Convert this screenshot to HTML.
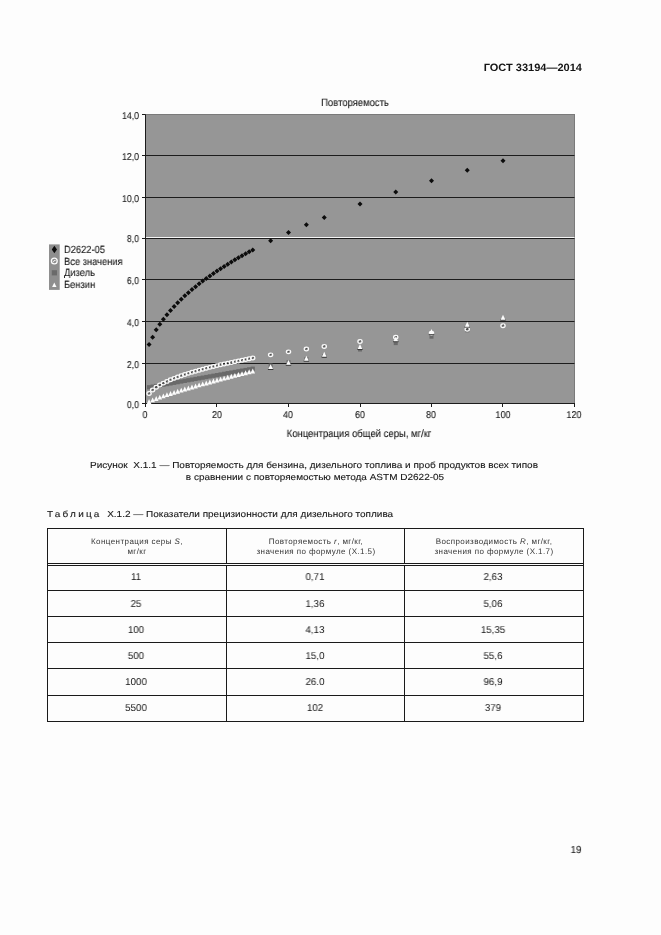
<!DOCTYPE html>
<html><head><meta charset="utf-8"><title>ГОСТ 33194—2014</title>
<style>
html,body{margin:0;padding:0;}
body{width:661px;height:935px;background:#fdfdfd;position:relative;overflow:hidden;font-family:"Liberation Sans",sans-serif;color:#141414;}
.t{position:absolute;white-space:pre;line-height:1;will-change:transform;text-rendering:geometricPrecision;}
.b{-webkit-text-stroke:0.2px #141414;}
.h{color:#343434;letter-spacing:0.42px;}
.p{color:#161616;-webkit-text-stroke:0.1px #161616;}
</style></head>
<body>
<svg width="661" height="935" viewBox="0 0 661 935" style="position:absolute;left:0;top:0"><rect x="145.5" y="114.5" width="429.0" height="289.0" fill="#969696"/><rect x="145.5" y="114.5" width="429.0" height="289.0" fill="none" stroke="#7a7a7a" stroke-width="1"/><line x1="145.5" x2="574.5" y1="363.5" y2="363.5" stroke="#1c1c1c" stroke-width="1"/><line x1="145.5" x2="574.5" y1="321.5" y2="321.5" stroke="#1c1c1c" stroke-width="1"/><line x1="145.5" x2="574.5" y1="279.5" y2="279.5" stroke="#1c1c1c" stroke-width="1"/><line x1="145.5" x2="574.5" y1="197.5" y2="197.5" stroke="#1c1c1c" stroke-width="1"/><line x1="145.5" x2="574.5" y1="155.5" y2="155.5" stroke="#1c1c1c" stroke-width="1"/><line x1="145.5" x2="574.5" y1="238.5" y2="238.5" stroke="#1c1c1c" stroke-width="1"/><line x1="145.5" x2="574.5" y1="237.5" y2="237.5" stroke="#f6f6f6" stroke-width="1"/><line x1="145.5" x2="145.5" y1="114.5" y2="404.0" stroke="#1c1c1c" stroke-width="1"/><line x1="142.0" x2="575.0" y1="403.5" y2="403.5" stroke="#1c1c1c" stroke-width="1"/><line x1="142.0" x2="145.5" y1="403.5" y2="403.5" stroke="#1c1c1c" stroke-width="1"/><line x1="142.0" x2="145.5" y1="363.5" y2="363.5" stroke="#1c1c1c" stroke-width="1"/><line x1="142.0" x2="145.5" y1="321.5" y2="321.5" stroke="#1c1c1c" stroke-width="1"/><line x1="142.0" x2="145.5" y1="279.5" y2="279.5" stroke="#1c1c1c" stroke-width="1"/><line x1="142.0" x2="145.5" y1="238.5" y2="238.5" stroke="#1c1c1c" stroke-width="1"/><line x1="142.0" x2="145.5" y1="197.5" y2="197.5" stroke="#1c1c1c" stroke-width="1"/><line x1="142.0" x2="145.5" y1="155.5" y2="155.5" stroke="#1c1c1c" stroke-width="1"/><line x1="142.0" x2="145.5" y1="114.5" y2="114.5" stroke="#1c1c1c" stroke-width="1"/><line x1="145.5" x2="145.5" y1="403.5" y2="407.0" stroke="#1c1c1c" stroke-width="1"/><line x1="216.5" x2="216.5" y1="403.5" y2="407.0" stroke="#1c1c1c" stroke-width="1"/><line x1="288.5" x2="288.5" y1="403.5" y2="407.0" stroke="#1c1c1c" stroke-width="1"/><line x1="360.5" x2="360.5" y1="403.5" y2="407.0" stroke="#1c1c1c" stroke-width="1"/><line x1="431.5" x2="431.5" y1="403.5" y2="407.0" stroke="#1c1c1c" stroke-width="1"/><line x1="502.5" x2="502.5" y1="403.5" y2="407.0" stroke="#1c1c1c" stroke-width="1"/><line x1="574.5" x2="574.5" y1="403.5" y2="407.0" stroke="#1c1c1c" stroke-width="1"/><path d="M149.07 341.93L151.57 344.43L149.07 346.93L146.57 344.43Z" fill="#0c0c0c"/><path d="M152.65 334.67L155.15 337.17L152.65 339.67L150.15 337.17Z" fill="#0c0c0c"/><path d="M156.22 327.21L158.72 329.71L156.22 332.21L153.72 329.71Z" fill="#0c0c0c"/><path d="M159.80 321.70L162.30 324.20L159.80 326.70L157.30 324.20Z" fill="#0c0c0c"/><path d="M163.38 316.72L165.88 319.22L163.38 321.72L160.88 319.22Z" fill="#0c0c0c"/><path d="M166.95 312.15L169.45 314.65L166.95 317.15L164.45 314.65Z" fill="#0c0c0c"/><path d="M170.53 307.92L173.03 310.42L170.53 312.92L168.03 310.42Z" fill="#0c0c0c"/><path d="M174.10 303.97L176.60 306.47L174.10 308.97L171.60 306.47Z" fill="#0c0c0c"/><path d="M177.68 300.24L180.18 302.74L177.68 305.24L175.18 302.74Z" fill="#0c0c0c"/><path d="M181.25 296.72L183.75 299.22L181.25 301.72L178.75 299.22Z" fill="#0c0c0c"/><path d="M184.82 293.37L187.32 295.87L184.82 298.37L182.32 295.87Z" fill="#0c0c0c"/><path d="M188.40 290.17L190.90 292.67L188.40 295.17L185.90 292.67Z" fill="#0c0c0c"/><path d="M191.97 287.11L194.47 289.61L191.97 292.11L189.47 289.61Z" fill="#0c0c0c"/><path d="M195.55 284.17L198.05 286.67L195.55 289.17L193.05 286.67Z" fill="#0c0c0c"/><path d="M199.12 281.34L201.62 283.84L199.12 286.34L196.62 283.84Z" fill="#0c0c0c"/><path d="M202.70 278.61L205.20 281.11L202.70 283.61L200.20 281.11Z" fill="#0c0c0c"/><path d="M206.28 275.97L208.78 278.47L206.28 280.97L203.78 278.47Z" fill="#0c0c0c"/><path d="M209.85 273.41L212.35 275.91L209.85 278.41L207.35 275.91Z" fill="#0c0c0c"/><path d="M213.43 270.92L215.93 273.42L213.43 275.92L210.93 273.42Z" fill="#0c0c0c"/><path d="M217.00 268.51L219.50 271.01L217.00 273.51L214.50 271.01Z" fill="#0c0c0c"/><path d="M220.57 266.16L223.07 268.66L220.57 271.16L218.07 268.66Z" fill="#0c0c0c"/><path d="M224.15 263.88L226.65 266.38L224.15 268.88L221.65 266.38Z" fill="#0c0c0c"/><path d="M227.72 261.65L230.22 264.15L227.72 266.65L225.22 264.15Z" fill="#0c0c0c"/><path d="M231.30 259.47L233.80 261.97L231.30 264.47L228.80 261.97Z" fill="#0c0c0c"/><path d="M234.88 257.35L237.38 259.85L234.88 262.35L232.38 259.85Z" fill="#0c0c0c"/><path d="M238.45 255.27L240.95 257.77L238.45 260.27L235.95 257.77Z" fill="#0c0c0c"/><path d="M242.03 253.24L244.53 255.74L242.03 258.24L239.53 255.74Z" fill="#0c0c0c"/><path d="M245.60 251.24L248.10 253.74L245.60 256.24L243.10 253.74Z" fill="#0c0c0c"/><path d="M249.18 249.29L251.68 251.79L249.18 254.29L246.68 251.79Z" fill="#0c0c0c"/><path d="M252.75 247.38L255.25 249.88L252.75 252.38L250.25 249.88Z" fill="#0c0c0c"/><path d="M270.62 238.31L273.12 240.81L270.62 243.31L268.12 240.81Z" fill="#0c0c0c"/><path d="M288.50 229.96L291.00 232.46L288.50 234.96L286.00 232.46Z" fill="#0c0c0c"/><path d="M306.38 222.19L308.88 224.69L306.38 227.19L303.88 224.69Z" fill="#0c0c0c"/><path d="M324.25 214.90L326.75 217.40L324.25 219.90L321.75 217.40Z" fill="#0c0c0c"/><path d="M360.00 201.51L362.50 204.01L360.00 206.51L357.50 204.01Z" fill="#0c0c0c"/><path d="M395.75 189.38L398.25 191.88L395.75 194.38L393.25 191.88Z" fill="#0c0c0c"/><path d="M431.50 178.22L434.00 180.72L431.50 183.22L429.00 180.72Z" fill="#0c0c0c"/><path d="M467.25 167.86L469.75 170.36L467.25 172.86L464.75 170.36Z" fill="#0c0c0c"/><path d="M503.00 158.16L505.50 160.66L503.00 163.16L500.50 160.66Z" fill="#0c0c0c"/><rect x="146.97" y="385.17" width="4.2" height="4.2" fill="#6a6a6a"/><rect x="150.55" y="384.53" width="4.2" height="4.2" fill="#6a6a6a"/><rect x="154.12" y="383.89" width="4.2" height="4.2" fill="#6a6a6a"/><rect x="157.70" y="383.25" width="4.2" height="4.2" fill="#6a6a6a"/><rect x="161.28" y="382.61" width="4.2" height="4.2" fill="#6a6a6a"/><rect x="164.85" y="381.97" width="4.2" height="4.2" fill="#6a6a6a"/><rect x="168.43" y="381.33" width="4.2" height="4.2" fill="#6a6a6a"/><rect x="172.00" y="380.69" width="4.2" height="4.2" fill="#6a6a6a"/><rect x="175.58" y="380.05" width="4.2" height="4.2" fill="#6a6a6a"/><rect x="179.15" y="379.41" width="4.2" height="4.2" fill="#6a6a6a"/><rect x="182.72" y="378.77" width="4.2" height="4.2" fill="#6a6a6a"/><rect x="186.30" y="378.13" width="4.2" height="4.2" fill="#6a6a6a"/><rect x="189.88" y="377.49" width="4.2" height="4.2" fill="#6a6a6a"/><rect x="193.45" y="376.85" width="4.2" height="4.2" fill="#6a6a6a"/><rect x="197.03" y="376.21" width="4.2" height="4.2" fill="#6a6a6a"/><rect x="200.60" y="375.57" width="4.2" height="4.2" fill="#6a6a6a"/><rect x="204.18" y="374.93" width="4.2" height="4.2" fill="#6a6a6a"/><rect x="207.75" y="374.29" width="4.2" height="4.2" fill="#6a6a6a"/><rect x="211.33" y="373.65" width="4.2" height="4.2" fill="#6a6a6a"/><rect x="214.90" y="373.01" width="4.2" height="4.2" fill="#6a6a6a"/><rect x="218.47" y="372.37" width="4.2" height="4.2" fill="#6a6a6a"/><rect x="222.05" y="371.73" width="4.2" height="4.2" fill="#6a6a6a"/><rect x="225.62" y="371.09" width="4.2" height="4.2" fill="#6a6a6a"/><rect x="229.20" y="370.45" width="4.2" height="4.2" fill="#6a6a6a"/><rect x="232.78" y="369.81" width="4.2" height="4.2" fill="#6a6a6a"/><rect x="236.35" y="369.17" width="4.2" height="4.2" fill="#6a6a6a"/><rect x="239.93" y="368.53" width="4.2" height="4.2" fill="#6a6a6a"/><rect x="243.50" y="367.89" width="4.2" height="4.2" fill="#6a6a6a"/><rect x="247.08" y="367.25" width="4.2" height="4.2" fill="#6a6a6a"/><rect x="250.65" y="366.61" width="4.2" height="4.2" fill="#6a6a6a"/><rect x="268.62" y="363.51" width="4.0" height="4.0" fill="#6a6a6a"/><rect x="286.50" y="360.31" width="4.0" height="4.0" fill="#6a6a6a"/><rect x="304.38" y="357.11" width="4.0" height="4.0" fill="#6a6a6a"/><rect x="322.25" y="353.91" width="4.0" height="4.0" fill="#6a6a6a"/><rect x="358.00" y="347.51" width="4.0" height="4.0" fill="#6a6a6a"/><rect x="393.75" y="341.11" width="4.0" height="4.0" fill="#6a6a6a"/><rect x="429.50" y="334.71" width="4.0" height="4.0" fill="#6a6a6a"/><rect x="465.25" y="328.31" width="4.0" height="4.0" fill="#6a6a6a"/><ellipse cx="149.07" cy="393.57" rx="2.15" ry="1.8499999999999999" fill="none" stroke="#fbfbfb" stroke-width="1.25"/><path d="M148.52 394.27Q148.67 392.77 149.97 392.82" fill="none" stroke="#2a2a2a" stroke-width="0.75"/><ellipse cx="152.65" cy="389.96" rx="2.15" ry="1.8499999999999999" fill="none" stroke="#fbfbfb" stroke-width="1.25"/><path d="M152.10 390.66Q152.25 389.16 153.55 389.21" fill="none" stroke="#2a2a2a" stroke-width="0.75"/><ellipse cx="156.22" cy="387.27" rx="2.15" ry="1.8499999999999999" fill="none" stroke="#fbfbfb" stroke-width="1.25"/><path d="M155.67 387.97Q155.82 386.47 157.12 386.52" fill="none" stroke="#2a2a2a" stroke-width="0.75"/><ellipse cx="159.80" cy="385.05" rx="2.15" ry="1.8499999999999999" fill="none" stroke="#fbfbfb" stroke-width="1.25"/><path d="M159.25 385.75Q159.40 384.25 160.70 384.30" fill="none" stroke="#2a2a2a" stroke-width="0.75"/><ellipse cx="163.38" cy="383.11" rx="2.15" ry="1.8499999999999999" fill="none" stroke="#fbfbfb" stroke-width="1.25"/><path d="M162.82 383.81Q162.97 382.31 164.28 382.36" fill="none" stroke="#2a2a2a" stroke-width="0.75"/><ellipse cx="166.95" cy="381.38" rx="2.15" ry="1.8499999999999999" fill="none" stroke="#fbfbfb" stroke-width="1.25"/><path d="M166.40 382.08Q166.55 380.58 167.85 380.63" fill="none" stroke="#2a2a2a" stroke-width="0.75"/><ellipse cx="170.53" cy="379.80" rx="2.15" ry="1.8499999999999999" fill="none" stroke="#fbfbfb" stroke-width="1.25"/><path d="M169.97 380.50Q170.12 379.00 171.43 379.05" fill="none" stroke="#2a2a2a" stroke-width="0.75"/><ellipse cx="174.10" cy="378.35" rx="2.15" ry="1.8499999999999999" fill="none" stroke="#fbfbfb" stroke-width="1.25"/><path d="M173.55 379.05Q173.70 377.55 175.00 377.60" fill="none" stroke="#2a2a2a" stroke-width="0.75"/><ellipse cx="177.68" cy="376.99" rx="2.15" ry="1.8499999999999999" fill="none" stroke="#fbfbfb" stroke-width="1.25"/><path d="M177.12 377.69Q177.28 376.19 178.58 376.24" fill="none" stroke="#2a2a2a" stroke-width="0.75"/><ellipse cx="181.25" cy="375.71" rx="2.15" ry="1.8499999999999999" fill="none" stroke="#fbfbfb" stroke-width="1.25"/><path d="M180.70 376.41Q180.85 374.91 182.15 374.96" fill="none" stroke="#2a2a2a" stroke-width="0.75"/><ellipse cx="184.82" cy="374.50" rx="2.15" ry="1.8499999999999999" fill="none" stroke="#fbfbfb" stroke-width="1.25"/><path d="M184.27 375.20Q184.42 373.70 185.72 373.75" fill="none" stroke="#2a2a2a" stroke-width="0.75"/><ellipse cx="188.40" cy="373.35" rx="2.15" ry="1.8499999999999999" fill="none" stroke="#fbfbfb" stroke-width="1.25"/><path d="M187.85 374.05Q188.00 372.55 189.30 372.60" fill="none" stroke="#2a2a2a" stroke-width="0.75"/><ellipse cx="191.97" cy="372.25" rx="2.15" ry="1.8499999999999999" fill="none" stroke="#fbfbfb" stroke-width="1.25"/><path d="M191.42 372.95Q191.57 371.45 192.88 371.50" fill="none" stroke="#2a2a2a" stroke-width="0.75"/><ellipse cx="195.55" cy="371.20" rx="2.15" ry="1.8499999999999999" fill="none" stroke="#fbfbfb" stroke-width="1.25"/><path d="M195.00 371.90Q195.15 370.40 196.45 370.45" fill="none" stroke="#2a2a2a" stroke-width="0.75"/><ellipse cx="199.12" cy="370.19" rx="2.15" ry="1.8499999999999999" fill="none" stroke="#fbfbfb" stroke-width="1.25"/><path d="M198.57 370.89Q198.72 369.39 200.03 369.44" fill="none" stroke="#2a2a2a" stroke-width="0.75"/><ellipse cx="202.70" cy="369.21" rx="2.15" ry="1.8499999999999999" fill="none" stroke="#fbfbfb" stroke-width="1.25"/><path d="M202.15 369.91Q202.30 368.41 203.60 368.46" fill="none" stroke="#2a2a2a" stroke-width="0.75"/><ellipse cx="206.28" cy="368.27" rx="2.15" ry="1.8499999999999999" fill="none" stroke="#fbfbfb" stroke-width="1.25"/><path d="M205.72 368.97Q205.88 367.47 207.18 367.52" fill="none" stroke="#2a2a2a" stroke-width="0.75"/><ellipse cx="209.85" cy="367.36" rx="2.15" ry="1.8499999999999999" fill="none" stroke="#fbfbfb" stroke-width="1.25"/><path d="M209.30 368.06Q209.45 366.56 210.75 366.61" fill="none" stroke="#2a2a2a" stroke-width="0.75"/><ellipse cx="213.43" cy="366.47" rx="2.15" ry="1.8499999999999999" fill="none" stroke="#fbfbfb" stroke-width="1.25"/><path d="M212.88 367.17Q213.03 365.67 214.33 365.72" fill="none" stroke="#2a2a2a" stroke-width="0.75"/><ellipse cx="217.00" cy="365.61" rx="2.15" ry="1.8499999999999999" fill="none" stroke="#fbfbfb" stroke-width="1.25"/><path d="M216.45 366.31Q216.60 364.81 217.90 364.86" fill="none" stroke="#2a2a2a" stroke-width="0.75"/><ellipse cx="220.57" cy="364.78" rx="2.15" ry="1.8499999999999999" fill="none" stroke="#fbfbfb" stroke-width="1.25"/><path d="M220.02 365.48Q220.17 363.98 221.47 364.03" fill="none" stroke="#2a2a2a" stroke-width="0.75"/><ellipse cx="224.15" cy="363.97" rx="2.15" ry="1.8499999999999999" fill="none" stroke="#fbfbfb" stroke-width="1.25"/><path d="M223.60 364.67Q223.75 363.17 225.05 363.22" fill="none" stroke="#2a2a2a" stroke-width="0.75"/><ellipse cx="227.72" cy="363.17" rx="2.15" ry="1.8499999999999999" fill="none" stroke="#fbfbfb" stroke-width="1.25"/><path d="M227.17 363.87Q227.32 362.37 228.62 362.42" fill="none" stroke="#2a2a2a" stroke-width="0.75"/><ellipse cx="231.30" cy="362.40" rx="2.15" ry="1.8499999999999999" fill="none" stroke="#fbfbfb" stroke-width="1.25"/><path d="M230.75 363.10Q230.90 361.60 232.20 361.65" fill="none" stroke="#2a2a2a" stroke-width="0.75"/><ellipse cx="234.88" cy="361.64" rx="2.15" ry="1.8499999999999999" fill="none" stroke="#fbfbfb" stroke-width="1.25"/><path d="M234.32 362.34Q234.47 360.84 235.78 360.89" fill="none" stroke="#2a2a2a" stroke-width="0.75"/><ellipse cx="238.45" cy="360.90" rx="2.15" ry="1.8499999999999999" fill="none" stroke="#fbfbfb" stroke-width="1.25"/><path d="M237.90 361.60Q238.05 360.10 239.35 360.15" fill="none" stroke="#2a2a2a" stroke-width="0.75"/><ellipse cx="242.03" cy="360.18" rx="2.15" ry="1.8499999999999999" fill="none" stroke="#fbfbfb" stroke-width="1.25"/><path d="M241.47 360.88Q241.62 359.38 242.93 359.43" fill="none" stroke="#2a2a2a" stroke-width="0.75"/><ellipse cx="245.60" cy="359.47" rx="2.15" ry="1.8499999999999999" fill="none" stroke="#fbfbfb" stroke-width="1.25"/><path d="M245.05 360.17Q245.20 358.67 246.50 358.72" fill="none" stroke="#2a2a2a" stroke-width="0.75"/><ellipse cx="249.18" cy="358.77" rx="2.15" ry="1.8499999999999999" fill="none" stroke="#fbfbfb" stroke-width="1.25"/><path d="M248.62 359.47Q248.78 357.97 250.08 358.02" fill="none" stroke="#2a2a2a" stroke-width="0.75"/><ellipse cx="252.75" cy="358.09" rx="2.15" ry="1.8499999999999999" fill="none" stroke="#fbfbfb" stroke-width="1.25"/><path d="M252.20 358.79Q252.35 357.29 253.65 357.34" fill="none" stroke="#2a2a2a" stroke-width="0.75"/><ellipse cx="270.62" cy="354.85" rx="2.15" ry="1.8499999999999999" fill="none" stroke="#fbfbfb" stroke-width="1.25"/><path d="M270.07 355.55Q270.23 354.05 271.52 354.10" fill="none" stroke="#2a2a2a" stroke-width="0.75"/><ellipse cx="288.50" cy="351.85" rx="2.15" ry="1.8499999999999999" fill="none" stroke="#fbfbfb" stroke-width="1.25"/><path d="M287.95 352.55Q288.10 351.05 289.40 351.10" fill="none" stroke="#2a2a2a" stroke-width="0.75"/><ellipse cx="306.38" cy="349.06" rx="2.15" ry="1.8499999999999999" fill="none" stroke="#fbfbfb" stroke-width="1.25"/><path d="M305.82 349.76Q305.98 348.26 307.27 348.31" fill="none" stroke="#2a2a2a" stroke-width="0.75"/><ellipse cx="324.25" cy="346.44" rx="2.15" ry="1.8499999999999999" fill="none" stroke="#fbfbfb" stroke-width="1.25"/><path d="M323.70 347.14Q323.85 345.64 325.15 345.69" fill="none" stroke="#2a2a2a" stroke-width="0.75"/><ellipse cx="360.00" cy="341.59" rx="2.15" ry="1.8499999999999999" fill="none" stroke="#fbfbfb" stroke-width="1.25"/><path d="M359.45 342.29Q359.60 340.79 360.90 340.84" fill="none" stroke="#2a2a2a" stroke-width="0.75"/><ellipse cx="395.75" cy="337.18" rx="2.15" ry="1.8499999999999999" fill="none" stroke="#fbfbfb" stroke-width="1.25"/><path d="M395.20 337.88Q395.35 336.38 396.65 336.43" fill="none" stroke="#2a2a2a" stroke-width="0.75"/><ellipse cx="431.50" cy="333.10" rx="2.15" ry="1.8499999999999999" fill="none" stroke="#fbfbfb" stroke-width="1.25"/><path d="M430.95 333.80Q431.10 332.30 432.40 332.35" fill="none" stroke="#2a2a2a" stroke-width="0.75"/><ellipse cx="467.25" cy="329.29" rx="2.15" ry="1.8499999999999999" fill="none" stroke="#fbfbfb" stroke-width="1.25"/><path d="M466.70 329.99Q466.85 328.49 468.15 328.54" fill="none" stroke="#2a2a2a" stroke-width="0.75"/><ellipse cx="503.00" cy="325.71" rx="2.15" ry="1.8499999999999999" fill="none" stroke="#fbfbfb" stroke-width="1.25"/><path d="M502.45 326.41Q502.60 324.91 503.90 324.96" fill="none" stroke="#2a2a2a" stroke-width="0.75"/><path d="M149.07 399.01L151.38 403.91L146.77 403.91Z" fill="#fcfcfc"/><path d="M152.65 397.44L154.95 402.34L150.35 402.34Z" fill="#fcfcfc"/><path d="M156.22 396.02L158.53 400.92L153.92 400.92Z" fill="#fcfcfc"/><path d="M159.80 394.70L162.10 399.60L157.50 399.60Z" fill="#fcfcfc"/><path d="M163.38 393.43L165.68 398.33L161.07 398.33Z" fill="#fcfcfc"/><path d="M166.95 392.21L169.25 397.11L164.65 397.11Z" fill="#fcfcfc"/><path d="M170.53 391.04L172.83 395.94L168.22 395.94Z" fill="#fcfcfc"/><path d="M174.10 389.89L176.40 394.79L171.80 394.79Z" fill="#fcfcfc"/><path d="M177.68 388.77L179.98 393.67L175.38 393.67Z" fill="#fcfcfc"/><path d="M181.25 387.67L183.55 392.57L178.95 392.57Z" fill="#fcfcfc"/><path d="M184.82 386.60L187.12 391.50L182.52 391.50Z" fill="#fcfcfc"/><path d="M188.40 385.54L190.70 390.44L186.10 390.44Z" fill="#fcfcfc"/><path d="M191.97 384.50L194.28 389.40L189.67 389.40Z" fill="#fcfcfc"/><path d="M195.55 383.48L197.85 388.38L193.25 388.38Z" fill="#fcfcfc"/><path d="M199.12 382.47L201.43 387.37L196.82 387.37Z" fill="#fcfcfc"/><path d="M202.70 381.47L205.00 386.37L200.40 386.37Z" fill="#fcfcfc"/><path d="M206.28 380.49L208.58 385.39L203.97 385.39Z" fill="#fcfcfc"/><path d="M209.85 379.51L212.15 384.41L207.55 384.41Z" fill="#fcfcfc"/><path d="M213.43 378.55L215.73 383.45L211.12 383.45Z" fill="#fcfcfc"/><path d="M217.00 377.59L219.30 382.49L214.70 382.49Z" fill="#fcfcfc"/><path d="M220.57 376.65L222.88 381.55L218.27 381.55Z" fill="#fcfcfc"/><path d="M224.15 375.71L226.45 380.61L221.85 380.61Z" fill="#fcfcfc"/><path d="M227.72 374.78L230.03 379.68L225.42 379.68Z" fill="#fcfcfc"/><path d="M231.30 373.86L233.60 378.76L229.00 378.76Z" fill="#fcfcfc"/><path d="M234.88 372.95L237.18 377.85L232.57 377.85Z" fill="#fcfcfc"/><path d="M238.45 372.04L240.75 376.94L236.15 376.94Z" fill="#fcfcfc"/><path d="M242.03 371.14L244.33 376.04L239.72 376.04Z" fill="#fcfcfc"/><path d="M245.60 370.25L247.90 375.15L243.30 375.15Z" fill="#fcfcfc"/><path d="M249.18 369.36L251.48 374.26L246.88 374.26Z" fill="#fcfcfc"/><path d="M252.75 368.48L255.05 373.38L250.45 373.38Z" fill="#fcfcfc"/><path d="M267.93 369.40H273.32" stroke="#222" stroke-width="0.9"/><path d="M270.62 364.15L272.93 369.05L268.32 369.05Z" fill="#fcfcfc"/><path d="M285.80 365.20H291.20" stroke="#222" stroke-width="0.9"/><path d="M288.50 359.95L290.80 364.85L286.20 364.85Z" fill="#fcfcfc"/><path d="M303.68 361.09H309.07" stroke="#222" stroke-width="0.9"/><path d="M306.38 355.84L308.68 360.74L304.07 360.74Z" fill="#fcfcfc"/><path d="M321.55 357.06H326.95" stroke="#222" stroke-width="0.9"/><path d="M324.25 351.81L326.55 356.71L321.95 356.71Z" fill="#fcfcfc"/><path d="M357.30 349.24H362.70" stroke="#222" stroke-width="0.9"/><path d="M360.00 343.99L362.30 348.89L357.70 348.89Z" fill="#fcfcfc"/><path d="M393.05 341.67H398.45" stroke="#222" stroke-width="0.9"/><path d="M395.75 336.42L398.05 341.32L393.45 341.32Z" fill="#fcfcfc"/><path d="M428.80 334.30H434.20" stroke="#222" stroke-width="0.9"/><path d="M431.50 329.05L433.80 333.95L429.20 333.95Z" fill="#fcfcfc"/><path d="M464.55 327.10H469.95" stroke="#222" stroke-width="0.9"/><path d="M467.25 321.85L469.55 326.75L464.95 326.75Z" fill="#fcfcfc"/><path d="M500.30 320.06H505.70" stroke="#222" stroke-width="0.9"/><path d="M503.00 314.81L505.30 319.71L500.70 319.71Z" fill="#fcfcfc"/><rect x="49" y="244.4" width="10.7" height="45.5" fill="#8e8e8e"/><path d="M54.4 245.8L57 249.5L54.4 253.2L51.8 249.5Z" fill="#0c0c0c"/><circle cx="54.3" cy="261" r="2.9" fill="none" stroke="#fbfbfb" stroke-width="1.3"/><path d="M53.3 262.2Q53.6 260 55.6 260.4" fill="none" stroke="#fbfbfb" stroke-width="0.9"/><rect x="51.80" y="270.20" width="5.2" height="5.2" fill="#6a6a6a"/><path d="M54.30 282.40L56.50 287.10L52.10 287.10Z" fill="#fcfcfc"/></svg>
<div style="position:absolute;left:47px;top:528px;width:537px;height:1px;background:#1a1a1a"></div><div style="position:absolute;left:47px;top:563px;width:537px;height:1px;background:#1a1a1a"></div><div style="position:absolute;left:47px;top:565px;width:537px;height:1px;background:#1a1a1a"></div><div style="position:absolute;left:47px;top:590px;width:537px;height:1px;background:#1a1a1a"></div><div style="position:absolute;left:47px;top:616px;width:537px;height:1px;background:#1a1a1a"></div><div style="position:absolute;left:47px;top:642px;width:537px;height:1px;background:#1a1a1a"></div><div style="position:absolute;left:47px;top:668px;width:537px;height:1px;background:#1a1a1a"></div><div style="position:absolute;left:47px;top:695px;width:537px;height:1px;background:#1a1a1a"></div><div style="position:absolute;left:47px;top:721px;width:537px;height:1px;background:#1a1a1a"></div><div style="position:absolute;left:47px;top:528px;width:1px;height:194px;background:#1a1a1a"></div><div style="position:absolute;left:226px;top:528px;width:1px;height:194px;background:#1a1a1a"></div><div style="position:absolute;left:404px;top:528px;width:1px;height:194px;background:#1a1a1a"></div><div style="position:absolute;left:583px;top:528px;width:1px;height:194px;background:#1a1a1a"></div><div style="position:absolute;left:48px;top:564px;width:535px;height:1px;background:#fdfdfd"></div>
<div class="t " style="left:581.6px;top:63px;font-size:10.6px;transform-origin:100% 50%;transform:translateX(-100%) scaleX(1.04);font-weight:bold;">ГОСТ 33194—2014</div>
<div class="t p" style="left:354.8px;top:98px;font-size:10.6px;transform:translateX(-50%) scaleX(0.893);">Повторяемость</div>
<div class="t p" style="left:138.9px;top:401px;font-size:9.9px;transform-origin:100% 50%;transform:translateX(-100%) scaleX(0.885);">0,0</div>
<div class="t p" style="left:138.9px;top:361px;font-size:9.9px;transform-origin:100% 50%;transform:translateX(-100%) scaleX(0.885);">2,0</div>
<div class="t p" style="left:138.9px;top:319px;font-size:9.9px;transform-origin:100% 50%;transform:translateX(-100%) scaleX(0.885);">4,0</div>
<div class="t p" style="left:138.9px;top:277px;font-size:9.9px;transform-origin:100% 50%;transform:translateX(-100%) scaleX(0.885);">6,0</div>
<div class="t p" style="left:138.9px;top:235px;font-size:9.9px;transform-origin:100% 50%;transform:translateX(-100%) scaleX(0.885);">8,0</div>
<div class="t p" style="left:138.9px;top:195px;font-size:9.9px;transform-origin:100% 50%;transform:translateX(-100%) scaleX(0.885);">10,0</div>
<div class="t p" style="left:138.9px;top:153px;font-size:9.9px;transform-origin:100% 50%;transform:translateX(-100%) scaleX(0.885);">12,0</div>
<div class="t p" style="left:138.9px;top:112px;font-size:9.9px;transform-origin:100% 50%;transform:translateX(-100%) scaleX(0.885);">14,0</div>
<div class="t p" style="left:145.4px;top:411px;font-size:9.9px;transform:translateX(-50%) scaleX(0.915);">0</div>
<div class="t p" style="left:216.9px;top:411px;font-size:9.9px;transform:translateX(-50%) scaleX(0.915);">20</div>
<div class="t p" style="left:288.4px;top:411px;font-size:9.9px;transform:translateX(-50%) scaleX(0.915);">40</div>
<div class="t p" style="left:359.9px;top:411px;font-size:9.9px;transform:translateX(-50%) scaleX(0.915);">60</div>
<div class="t p" style="left:431.4px;top:411px;font-size:9.9px;transform:translateX(-50%) scaleX(0.915);">80</div>
<div class="t p" style="left:502.9px;top:411px;font-size:9.9px;transform:translateX(-50%) scaleX(0.915);">100</div>
<div class="t p" style="left:574.4px;top:411px;font-size:9.9px;transform:translateX(-50%) scaleX(0.915);">120</div>
<div class="t p" style="left:359.1px;top:429px;font-size:10.6px;transform:translateX(-50%) scaleX(0.896);">Концентрация общей серы, мг/кг</div>
<div class="t p" style="left:63.9px;top:246px;font-size:10.4px;transform-origin:0 50%;transform:scaleX(0.9);">D2622-05</div>
<div class="t p" style="left:63.9px;top:258px;font-size:10.4px;transform-origin:0 50%;transform:scaleX(0.9);">Все значения</div>
<div class="t p" style="left:63.9px;top:269px;font-size:10.4px;transform-origin:0 50%;transform:scaleX(0.9);">Дизель</div>
<div class="t p" style="left:63.9px;top:281px;font-size:10.4px;transform-origin:0 50%;transform:scaleX(0.9);">Бензин</div>
<div class="t p" style="left:314.2px;top:461px;font-size:8.8px;transform:translateX(-50%) scaleX(1.136);">Рисунок  Х.1.1 — Повторяемость для бензина, дизельного топлива и проб продуктов всех типов</div>
<div class="t p" style="left:314.6px;top:473px;font-size:8.8px;transform:translateX(-50%) scaleX(1.136);">в сравнении с повторяемостью метода ASTM D2622-05</div>
<div class="t p" style="left:47.2px;top:510px;font-size:8.8px;transform-origin:0 50%;transform:scaleX(1.136);"><span style="letter-spacing:1.94px">Таблица</span>  Х.1.2 — Показатели прецизионности для дизельного топлива</div>
<div class="t p" style="left:576.2px;top:846px;font-size:10.2px;transform:translateX(-50%) scaleX(0.95);">19</div>
<div class="t h" style="left:137.0px;top:538px;font-size:8px;transform:translateX(-50%) scaleX(1.0);">Концентрация серы <i>S</i>,</div>
<div class="t h" style="left:137.0px;top:548px;font-size:8px;transform:translateX(-50%) scaleX(1.0);">мг/кг</div>
<div class="t h" style="left:315.5px;top:538px;font-size:8px;transform:translateX(-50%) scaleX(1.0);">Повторяемость <i>r</i>, мг/кг,</div>
<div class="t h" style="left:315.5px;top:548px;font-size:8px;transform:translateX(-50%) scaleX(1.0);">значения по формуле (Х.1.5)</div>
<div class="t h" style="left:494.0px;top:538px;font-size:8px;transform:translateX(-50%) scaleX(1.0);">Воспроизводимость <i>R</i>, мг/кг,</div>
<div class="t h" style="left:494.0px;top:548px;font-size:8px;transform:translateX(-50%) scaleX(1.0);">значения по формуле (Х.1.7)</div>
<div class="t " style="left:136.3px;top:573px;font-size:10px;transform:translateX(-50%) scaleX(0.975);">11</div>
<div class="t " style="left:314.8px;top:573px;font-size:10px;transform:translateX(-50%) scaleX(0.975);">0,71</div>
<div class="t " style="left:493.3px;top:573px;font-size:10px;transform:translateX(-50%) scaleX(0.975);">2,63</div>
<div class="t " style="left:136.3px;top:600px;font-size:10px;transform:translateX(-50%) scaleX(0.975);">25</div>
<div class="t " style="left:314.8px;top:600px;font-size:10px;transform:translateX(-50%) scaleX(0.975);">1,36</div>
<div class="t " style="left:493.3px;top:600px;font-size:10px;transform:translateX(-50%) scaleX(0.975);">5,06</div>
<div class="t " style="left:136.3px;top:626px;font-size:10px;transform:translateX(-50%) scaleX(0.975);">100</div>
<div class="t " style="left:314.8px;top:626px;font-size:10px;transform:translateX(-50%) scaleX(0.975);">4,13</div>
<div class="t " style="left:493.3px;top:626px;font-size:10px;transform:translateX(-50%) scaleX(0.975);">15,35</div>
<div class="t " style="left:136.3px;top:652px;font-size:10px;transform:translateX(-50%) scaleX(0.975);">500</div>
<div class="t " style="left:314.8px;top:652px;font-size:10px;transform:translateX(-50%) scaleX(0.975);">15,0</div>
<div class="t " style="left:493.3px;top:652px;font-size:10px;transform:translateX(-50%) scaleX(0.975);">55,6</div>
<div class="t " style="left:136.3px;top:678px;font-size:10px;transform:translateX(-50%) scaleX(0.975);">1000</div>
<div class="t " style="left:314.8px;top:678px;font-size:10px;transform:translateX(-50%) scaleX(0.975);">26.0</div>
<div class="t " style="left:493.3px;top:678px;font-size:10px;transform:translateX(-50%) scaleX(0.975);">96,9</div>
<div class="t " style="left:136.3px;top:704px;font-size:10px;transform:translateX(-50%) scaleX(0.975);">5500</div>
<div class="t " style="left:314.8px;top:704px;font-size:10px;transform:translateX(-50%) scaleX(0.975);">102</div>
<div class="t " style="left:493.3px;top:704px;font-size:10px;transform:translateX(-50%) scaleX(0.975);">379</div>
</body></html>
